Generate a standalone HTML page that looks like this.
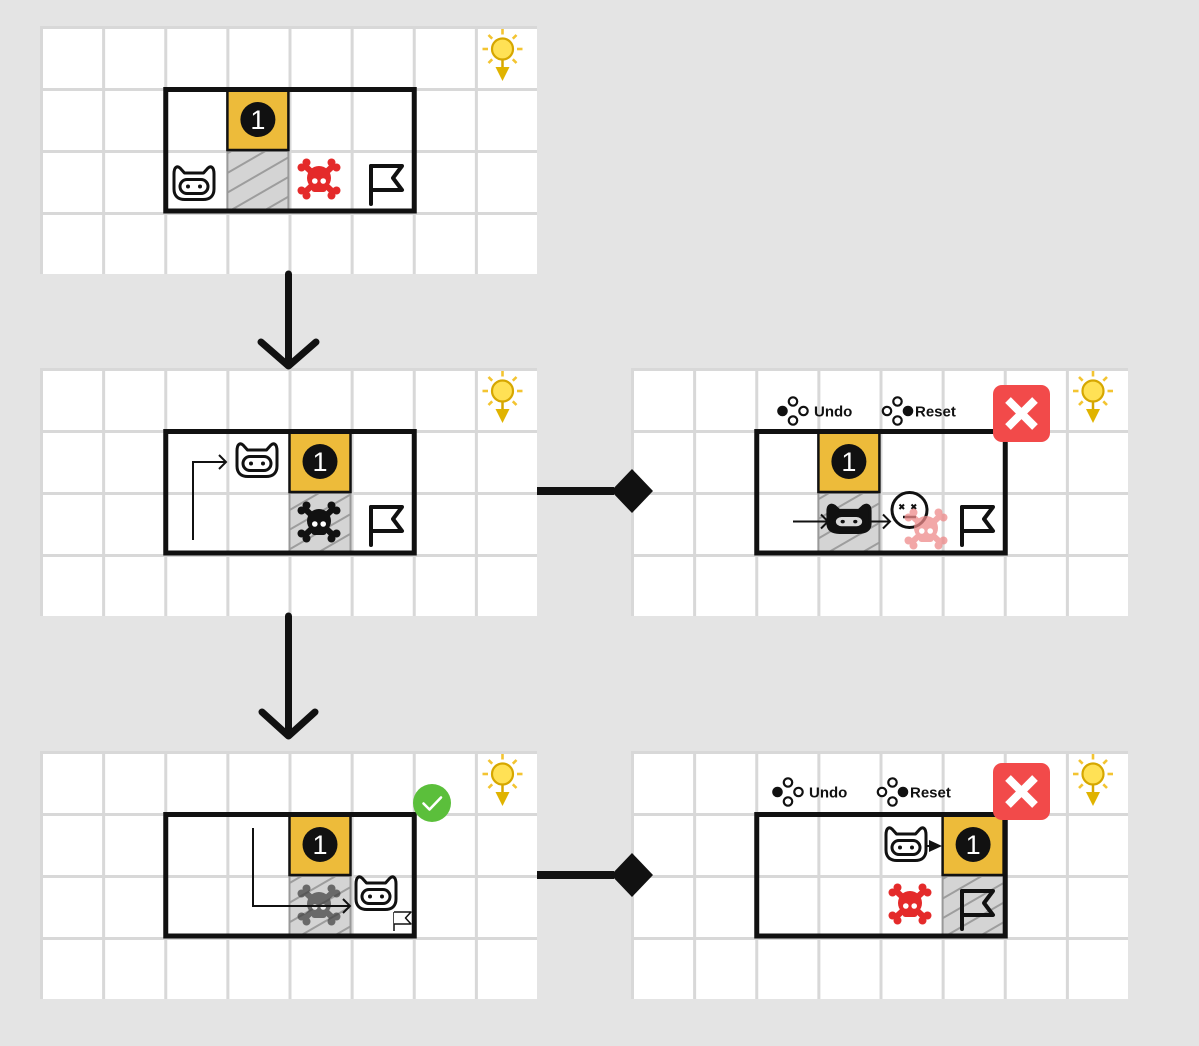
<!DOCTYPE html>
<html><head><meta charset="utf-8"><style>
html,body{margin:0;padding:0;background:#e4e4e4;}
svg{display:block;}
</style></head><body>
<svg width="1199" height="1046" viewBox="0 0 1199 1046" xmlns="http://www.w3.org/2000/svg">
<defs>
  <g id="grid">
    <rect width="497" height="248" fill="#fff"/>
    <g fill="#d8d8d8">
      <rect x="0" y="0" width="3" height="248"/>
      <rect x="62.125" y="0" width="3" height="248"/>
      <rect x="124.25" y="0" width="3" height="248"/>
      <rect x="186.375" y="0" width="3" height="248"/>
      <rect x="248.5" y="0" width="3" height="248"/>
      <rect x="310.625" y="0" width="3" height="248"/>
      <rect x="372.75" y="0" width="3" height="248"/>
      <rect x="434.875" y="0" width="3" height="248"/>
      <rect x="0" y="0" width="497" height="3"/>
      <rect x="0" y="62" width="497" height="3"/>
      <rect x="0" y="124" width="497" height="3"/>
      <rect x="0" y="186" width="497" height="3"/>
    </g>
  </g>
  <pattern id="hatch" patternUnits="userSpaceOnUse" width="12" height="17" patternTransform="rotate(-30)">
    <rect width="12" height="17" fill="#d4d4d4"/>
    <line x1="-1" y1="8.5" x2="13" y2="8.5" stroke="#9d9d9d" stroke-width="2"/>
  </pattern>
  <g id="sun">
    <g stroke="#f3c431" stroke-width="2.6" stroke-linecap="butt">
      <line x1="0" y1="-14.5" x2="0" y2="-20"/>
      <line x1="10.3" y1="-10.3" x2="14" y2="-14"/>
      <line x1="14.5" y1="0" x2="20" y2="0"/>
      <line x1="10.3" y1="10.3" x2="14" y2="14"/>
      <line x1="-10.3" y1="10.3" x2="-14" y2="14"/>
      <line x1="-14.5" y1="0" x2="-20" y2="0"/>
      <line x1="-10.3" y1="-10.3" x2="-14" y2="-14"/>
    </g>
    <line x1="0" y1="11" x2="0" y2="19" stroke="#d6a700" stroke-width="2.5"/>
    <polygon points="-7,18 7,18 0,32" fill="#e0b300"/>
    <circle r="10.5" fill="#ffe155" stroke="#d6a700" stroke-width="2.2"/>
  </g>
  <g id="robot">
    <path d="M -20,-10 C -20,-17 -17,-18.5 -14,-16 L -9.5,-11 L 9.5,-11 L 14,-16 C 17,-18.5 20,-17 20,-10 L 20,5 C 20,12 16,15.5 9,15.5 L -9,15.5 C -16,15.5 -20,12 -20,5 Z" fill="#fff" stroke="#111" stroke-width="3" stroke-linejoin="round"/>
    <rect x="-14" y="-4.5" width="28" height="14" rx="7" fill="#fff" stroke="#111" stroke-width="3"/>
    <circle cx="-6" cy="2.5" r="2" fill="#111"/>
    <circle cx="6" cy="2.5" r="2" fill="#111"/>
  </g>
  <g id="robotb">
    <path d="M -20,-10 C -20,-17 -17,-18.5 -14,-16 L -9.5,-11 L 9.5,-11 L 14,-16 C 17,-18.5 20,-17 20,-10 L 20,5 C 20,12 16,15.5 9,15.5 L -9,15.5 C -16,15.5 -20,12 -20,5 Z" fill="#111" stroke="#111" stroke-width="3" stroke-linejoin="round"/>
    <rect x="-14" y="-4.5" width="28" height="14" rx="7" fill="#d9d9d9" stroke="#111" stroke-width="3"/>
    <circle cx="-6" cy="2.5" r="2" fill="#111"/>
    <circle cx="6" cy="2.5" r="2" fill="#111"/>
  </g>
  <g id="skull">
    <g stroke="currentColor" stroke-width="6">
      <line x1="-15" y1="-14" x2="15" y2="14"/>
      <line x1="-15" y1="14" x2="15" y2="-14"/>
    </g>
    <g fill="currentColor">
      <circle cx="-17.5" cy="-11.5" r="4"/><circle cx="-12.5" cy="-16.5" r="4"/>
      <circle cx="17.5" cy="-11.5" r="4"/><circle cx="12.5" cy="-16.5" r="4"/>
      <circle cx="-17.5" cy="11.5" r="4"/><circle cx="-12.5" cy="16.5" r="4"/>
      <circle cx="17.5" cy="11.5" r="4"/><circle cx="12.5" cy="16.5" r="4"/>
      <circle cx="0" cy="-1" r="12"/>
      <rect x="-7.5" y="4" width="15" height="9" rx="3"/>
    </g>
    <circle cx="-4.2" cy="2" r="2.8" fill="#fff"/>
    <circle cx="4.2" cy="2" r="2.8" fill="#fff"/>
  </g>
  <g id="flag" fill="none" stroke="#111" stroke-width="4" stroke-linecap="round" stroke-linejoin="round">
    <line x1="0" y1="0" x2="0" y2="38"/>
    <path d="M0,0 L31,0 L22,12 L31,24 L0,24"/>
  </g>
</defs>

<!-- panels -->
<use href="#grid" x="40" y="26"/>
<use href="#grid" x="40" y="368"/>
<use href="#grid" x="40" y="751"/>
<use href="#grid" x="631" y="368"/>
<use href="#grid" x="631" y="751"/>

<!-- connectors -->
<g stroke="#111" stroke-width="7" fill="none" stroke-linecap="round" stroke-linejoin="round">
  <line x1="288.5" y1="274" x2="288.5" y2="364"/>
  <polyline points="261,342 288.5,366 316,342"/>
  <line x1="288.5" y1="616" x2="288.5" y2="734"/>
  <polyline points="262,712 288.5,736 315,712"/>
</g>
<rect x="537" y="487" width="77" height="8" fill="#111"/>
<polygon points="611,491 632,469 653,491 632,513" fill="#111"/>
<rect x="537" y="871" width="77" height="8" fill="#111"/>
<polygon points="611,875 632,853 653,875 632,897" fill="#111"/>

<!-- ===== Panel 1 ===== -->
<rect x="227.4" y="151" width="61" height="61" fill="url(#hatch)" stroke="#999" stroke-width="2"/>
<rect x="227.4" y="89" width="61" height="61" fill="#edbb3a" stroke="#111" stroke-width="2.5"/>
<rect x="165.75" y="89.5" width="248.5" height="121.5" fill="none" stroke="#111" stroke-width="5"/>
<circle cx="257.9" cy="119.5" r="17.5" fill="#111"/>
<text x="257.9" y="129" font-family="Liberation Sans, sans-serif" font-size="27" fill="#fff" text-anchor="middle">1</text>
<use href="#robot" x="194" y="184"/>
<use href="#skull" x="319" y="179" style="color:#e42a2a"/>
<use href="#flag" x="371" y="166"/>
<use href="#sun" x="502.5" y="49"/>

<!-- ===== Panel 2 ===== -->
<rect x="289.5" y="493" width="61" height="61" fill="url(#hatch)" stroke="#999" stroke-width="2"/>
<rect x="289.5" y="431" width="61" height="61" fill="#edbb3a" stroke="#111" stroke-width="2.5"/>
<rect x="165.75" y="431.5" width="248.5" height="121.5" fill="none" stroke="#111" stroke-width="5"/>
<circle cx="320" cy="461.5" r="17.5" fill="#111"/>
<text x="320" y="471" font-family="Liberation Sans, sans-serif" font-size="27" fill="#fff" text-anchor="middle">1</text>
<g fill="none" stroke="#111" stroke-width="2">
  <polyline points="193,540 193,462 226,462"/>
  <polyline points="219,455 226,462 219,469"/>
</g>
<use href="#robot" x="257" y="461"/>
<use href="#skull" x="319" y="522" style="color:#111"/>
<use href="#flag" x="371" y="507"/>
<use href="#sun" x="502.5" y="391"/>

<!-- ===== Panel 3 ===== -->
<rect x="289.5" y="876" width="61" height="61" fill="url(#hatch)" stroke="#999" stroke-width="2"/>
<rect x="289.5" y="814" width="61" height="61" fill="#edbb3a" stroke="#111" stroke-width="2.5"/>
<rect x="165.75" y="814.5" width="248.5" height="121.5" fill="none" stroke="#111" stroke-width="5"/>
<circle cx="320" cy="844.5" r="17.5" fill="#111"/>
<text x="320" y="854" font-family="Liberation Sans, sans-serif" font-size="27" fill="#fff" text-anchor="middle">1</text>
<use href="#skull" x="319" y="905" style="color:#3d3d3d" opacity="0.7"/>
<g fill="none" stroke="#111" stroke-width="2">
  <polyline points="253,828 253,906 350,906"/>
  <polyline points="343,899 350,906 343,913"/>
</g>
<use href="#robot" x="376" y="894"/>
<g fill="#fff" stroke="#111" stroke-width="1.5" stroke-linejoin="round">
  <line x1="394" y1="912" x2="394" y2="931"/>
  <path d="M394,912 L411,912 L405.5,918 L411,924 L394,924"/>
</g>
<circle cx="432" cy="803" r="19" fill="#5bbf3b"/>
<polyline points="423.5,803.5 429.5,809.5 441,797.5" fill="none" stroke="#fff" stroke-width="2.6" stroke-linecap="round" stroke-linejoin="round"/>
<use href="#sun" x="502.5" y="774"/>

<!-- ===== Panel 4 ===== -->
<rect x="818.4" y="493" width="61" height="61" fill="url(#hatch)" stroke="#999" stroke-width="2"/>
<rect x="818.4" y="431" width="61" height="61" fill="#edbb3a" stroke="#111" stroke-width="2.5"/>
<rect x="756.75" y="431.5" width="248.5" height="121.5" fill="none" stroke="#111" stroke-width="5"/>
<circle cx="848.9" cy="461.5" r="17.5" fill="#111"/>
<text x="848.9" y="471" font-family="Liberation Sans, sans-serif" font-size="27" fill="#fff" text-anchor="middle">1</text>
<g fill="none" stroke="#111" stroke-width="2">
  <line x1="793" y1="521.5" x2="828" y2="521.5"/>
  <polyline points="821,514.5 828,521.5 821,528.5"/>
  <line x1="870" y1="521.5" x2="890" y2="521.5"/>
  <polyline points="883,514.5 890,521.5 883,528.5"/>
</g>
<use href="#robotb" transform="translate(849,519.5) scale(1.05,0.85)"/>
<circle cx="909.5" cy="510" r="17.5" fill="#fff" stroke="#111" stroke-width="3"/>
<g stroke="#111" stroke-width="2">
  <line x1="899.5" y1="504.5" x2="904" y2="509"/>
  <line x1="904" y1="504.5" x2="899.5" y2="509"/>
  <line x1="911.5" y1="504.5" x2="916" y2="509"/>
  <line x1="916" y1="504.5" x2="911.5" y2="509"/>
  <line x1="903" y1="517" x2="916" y2="517" stroke-width="2.5"/>
</g>
<use href="#skull" x="926" y="529" style="color:#ee8a8a" opacity="0.75"/>
<use href="#flag" x="962" y="507"/>
<g fill="#111" stroke="#111" stroke-width="2.2">
  <circle cx="782.5" cy="411" r="4.2"/>
  <circle cx="793" cy="401.5" r="4.2" fill="#fff"/>
  <circle cx="803.5" cy="411" r="4.2" fill="#fff"/>
  <circle cx="793" cy="420.5" r="4.2" fill="#fff"/>
  <circle cx="887" cy="411" r="4.2" fill="#fff"/>
  <circle cx="897.5" cy="401.5" r="4.2" fill="#fff"/>
  <circle cx="908" cy="411" r="4.2"/>
  <circle cx="897.5" cy="420.5" r="4.2" fill="#fff"/>
</g>
<text x="814" y="416.5" font-family="Liberation Sans, sans-serif" font-size="15" font-weight="bold" fill="#111">Undo</text>
<text x="915" y="416.5" font-family="Liberation Sans, sans-serif" font-size="15" font-weight="bold" fill="#111">Reset</text>
<rect x="993" y="385" width="57" height="57" rx="9" fill="#f24a4a"/>
<g stroke="#fff" stroke-width="8">
  <line x1="1008" y1="400" x2="1035" y2="427"/>
  <line x1="1035" y1="400" x2="1008" y2="427"/>
</g>
<use href="#sun" x="1093" y="391"/>

<!-- ===== Panel 5 ===== -->
<rect x="942.6" y="876" width="61" height="61" fill="url(#hatch)" stroke="#999" stroke-width="2"/>
<rect x="942.6" y="814" width="61" height="61" fill="#edbb3a" stroke="#111" stroke-width="2.5"/>
<rect x="756.75" y="814.5" width="248.5" height="121.5" fill="none" stroke="#111" stroke-width="5"/>
<circle cx="973.1" cy="844.5" r="17.5" fill="#111"/>
<text x="973.1" y="854" font-family="Liberation Sans, sans-serif" font-size="27" fill="#fff" text-anchor="middle">1</text>
<use href="#robot" x="906" y="845"/>
<line x1="926" y1="846" x2="931" y2="846" stroke="#111" stroke-width="2"/>
<polygon points="929,840 942,846 929,852" fill="#111"/>
<use href="#skull" x="910" y="904" style="color:#e42a2a"/>
<use href="#flag" x="962" y="891"/>
<g fill="#111" stroke="#111" stroke-width="2.2">
  <circle cx="777.5" cy="792" r="4.2"/>
  <circle cx="788" cy="782.5" r="4.2" fill="#fff"/>
  <circle cx="798.5" cy="792" r="4.2" fill="#fff"/>
  <circle cx="788" cy="801.5" r="4.2" fill="#fff"/>
  <circle cx="882" cy="792" r="4.2" fill="#fff"/>
  <circle cx="892.5" cy="782.5" r="4.2" fill="#fff"/>
  <circle cx="903" cy="792" r="4.2"/>
  <circle cx="892.5" cy="801.5" r="4.2" fill="#fff"/>
</g>
<text x="809" y="797.5" font-family="Liberation Sans, sans-serif" font-size="15" font-weight="bold" fill="#111">Undo</text>
<text x="910" y="797.5" font-family="Liberation Sans, sans-serif" font-size="15" font-weight="bold" fill="#111">Reset</text>
<rect x="993" y="763" width="57" height="57" rx="9" fill="#f24a4a"/>
<g stroke="#fff" stroke-width="8">
  <line x1="1008" y1="778" x2="1035" y2="805"/>
  <line x1="1035" y1="778" x2="1008" y2="805"/>
</g>
<use href="#sun" x="1093" y="774"/>
</svg>
</body></html>
